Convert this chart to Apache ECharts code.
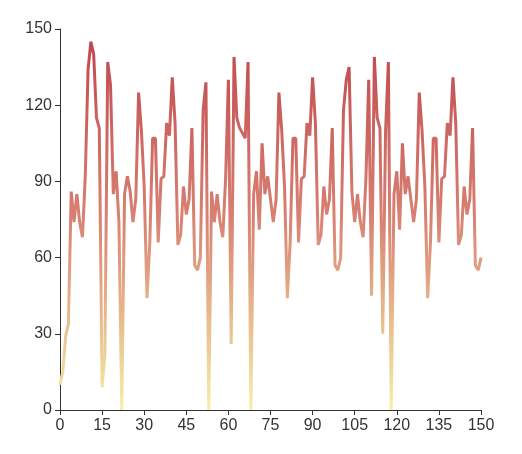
<!DOCTYPE html>
<html>
<head>
<meta charset="utf-8">
<script src="https://cdn.jsdelivr.net/npm/echarts@6/dist/echarts.min.js"></script>
</head>
<body style="margin:0">
<div id="chart" style="width:522px;height:454px;"></div>
<script>
// values, x = 0..150
var values = [
  10, 15, 29, 34, 86, 74, 85, 74, 68, 92,
  134, 145, 140, 115, 111, 9, 22, 137, 128, 85,
  94, 74, 0, 85, 92, 86, 74, 83, 125, 110,
  88, 44, 66, 107, 107, 66, 91, 92, 113, 108,
  131, 113, 65, 69, 88, 77, 83, 111, 57, 55,
  60, 118, 129, 0, 86, 74, 85, 74, 68, 91,
  130, 26, 139, 115, 111, 109, 107, 137, 0, 85,
  94, 71, 105, 85, 92, 83, 74, 83, 125, 110,
  88, 44, 66, 107, 107, 66, 91, 92, 113, 108,
  131, 113, 65, 69, 88, 77, 83, 111, 57, 55,
  60, 118, 130, 135, 86, 74, 85, 74, 68, 91,
  130, 45, 139, 115, 111, 30, 110, 137, 0, 85,
  94, 71, 105, 85, 92, 83, 74, 83, 125, 110,
  88, 44, 66, 107, 107, 66, 91, 92, 113, 108,
  131, 113, 65, 69, 88, 77, 83, 111, 57, 55,
  60
];
var points = values.map(function (v, i) { return [i, v]; });

var chart = echarts.init(document.getElementById('chart'));
chart.setOption({
  animation: false,
  grid: { left: 60, right: 41, top: 29, bottom: 44 },
  visualMap: {
    show: false,
    type: 'continuous',
    dimension: 1,
    min: 0,
    max: 150,
    inRange: { color: ['#f6efa6', '#d88273', '#bf444c'] }
  },
  xAxis: {
    type: 'value', min: 0, max: 150, interval: 15,
    splitLine: { show: false },
    axisLine: { lineStyle: { color: '#333' } },
    axisTick: { lineStyle: { color: '#333' } },
    axisLabel: { color: '#333', fontSize: 16 }
  },
  yAxis: {
    type: 'value', min: 0, max: 150, interval: 30,
    splitLine: { show: false },
    axisLine: { show: true, lineStyle: { color: '#333' } },
    axisTick: { show: true, lineStyle: { color: '#333' } },
    axisLabel: { color: '#333', fontSize: 16 }
  },
  series: [{
    type: 'line',
    data: points,
    showSymbol: false,
    lineStyle: { width: 3 }
  }]
});
</script>
</body>
</html>
